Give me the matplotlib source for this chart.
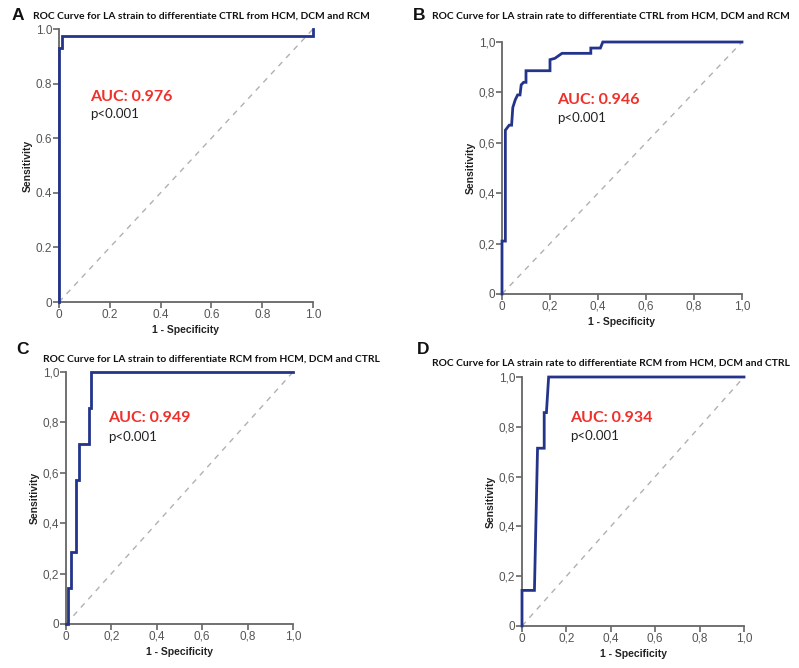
import matplotlib.pyplot as plt

# ROC curve points (1 - specificity, sensitivity)
a_fpr = [0, 0, 0.01, 0.01, 1.0, 1.0]
a_tpr = [0, 0.93, 0.93, 0.976, 0.976, 1.0]

b_fpr = [0, 0, 0.014, 0.014, 0.03, 0.04, 0.045, 0.055, 0.065, 0.075, 0.08, 0.09, 0.10, 0.10,
         0.20, 0.20, 0.22, 0.25, 0.37, 0.37, 0.41, 0.42, 1.0]
b_tpr = [0, 0.21, 0.21, 0.65, 0.67, 0.67, 0.74, 0.77, 0.79, 0.79, 0.83, 0.84, 0.84, 0.886,
         0.886, 0.93, 0.935, 0.955, 0.955, 0.976, 0.976, 1.0, 1.0]

c_fpr = [0, 0.01, 0.01, 0.02, 0.02, 0.043, 0.043, 0.058, 0.058, 0.10, 0.10, 0.108, 0.108, 1.0]
c_tpr = [0, 0, 0.143, 0.143, 0.286, 0.286, 0.571, 0.571, 0.714, 0.714, 0.857, 0.857, 1.0, 1.0]

d_fpr = [0, 0, 0.056, 0.063, 0.07, 0.10, 0.10, 0.11, 0.12, 1.0]
d_tpr = [0, 0.143, 0.143, 0.43, 0.714, 0.714, 0.857, 0.857, 1.0, 1.0]

ticks = [0, 0.2, 0.4, 0.6, 0.8, 1.0]
dot_labels = ["0", "0.2", "0.4", "0.6", "0.8", "1.0"]
comma_labels = ["0", "0,2", "0,4", "0,6", "0,8", "1,0"]

titles = ["ROC Curve for LA strain to differentiate CTRL from HCM, DCM and RCM",
          "ROC Curve for LA strain rate to differentiate CTRL from HCM, DCM and RCM",
          "ROC Curve for LA strain to differentiate RCM from HCM, DCM and CTRL",
          "ROC Curve for LA strain rate to differentiate RCM from HCM, DCM and CTRL"]
letters = ["A", "B", "C", "D"]
aucs = ["AUC: 0.976", "AUC: 0.946", "AUC: 0.949", "AUC: 0.934"]

W, H = 799, 668
fig = plt.figure(figsize=(W / 100, H / 100), dpi=100)


def px_axes(left, top, right, bottom):
    return fig.add_axes([left / W, 1 - bottom / H, (right - left) / W, (bottom - top) / H])


boxes = [(59, 29, 313, 302), (502, 42, 742, 294), (66, 372, 293, 624), (522, 377, 744, 626)]
curves = [(a_fpr, a_tpr), (b_fpr, b_tpr), (c_fpr, c_tpr), (d_fpr, d_tpr)]
labels = [dot_labels, comma_labels, comma_labels, comma_labels]
# text anchors in pixels: title x, title y, letter x, letter y, auc x, auc y, p y
texts = [(33, 16, 12, 16, 90, 97, 114),
         (432, 16, 413, 16, 557, 100, 118),
         (43, 359, 16, 350, 108, 418, 437),
         (432, 363, 417, 350, 570, 418, 436)]

navy = "#24348a"
grey = "#666666"

for i in range(4):
    ax = px_axes(*boxes[i])
    fpr, tpr = curves[i]
    ax.plot([0, 1], [0, 1], color="#b0b0b0", lw=1.0, ls=(0, (4, 4)))
    ax.plot(fpr, tpr, color=navy, lw=2.0, solid_joinstyle="miter", clip_on=False, zorder=3)
    ax.set_xlim(0, 1)
    ax.set_ylim(0, 1)
    ax.set_xticks(ticks)
    ax.set_yticks(ticks)
    ax.set_xticklabels(labels[i], family="Liberation Sans", fontsize=8.5, color="#555555")
    ax.set_yticklabels(labels[i], family="Liberation Sans", fontsize=8.5, color="#555555")
    for s in ["top", "right"]:
        ax.spines[s].set_visible(False)
    for s in ["left", "bottom"]:
        ax.spines[s].set_color(grey)
        ax.spines[s].set_linewidth(1.3)
    ax.tick_params(direction="out", length=4, width=1.2, color=grey, pad=1)
    ax.set_xlabel("1 - Specificity", family="Liberation Sans", fontweight="bold",
                  fontsize=7.5, color="#222222", labelpad=3)
    ax.set_ylabel("Sensitivity", family="Liberation Sans", fontweight="bold",
                  fontsize=7.5, color="#222222", labelpad=2)

    tx, ty, lx, ly, axx, ayy, py = texts[i]
    fig.text(tx / W, 1 - ty / H, titles[i], family="Lato", fontweight="bold",
             fontsize=7.4, va="center", ha="left", color="#111111")
    fig.text(lx / W, 1 - ly / H, letters[i], family="Liberation Sans", fontweight="bold",
             fontsize=12.5, va="center", ha="left", color="#111111")
    fig.text(axx / W, 1 - ayy / H, aucs[i], family="Lato", fontweight="bold",
             fontsize=11.5, va="center", ha="left", color="#f0302a")
    fig.text(axx / W, 1 - py / H, "p<0.001", family="Lato",
             fontsize=9.5, va="center", ha="left", color="#222222")

fig.savefig("out.png", dpi=100)
